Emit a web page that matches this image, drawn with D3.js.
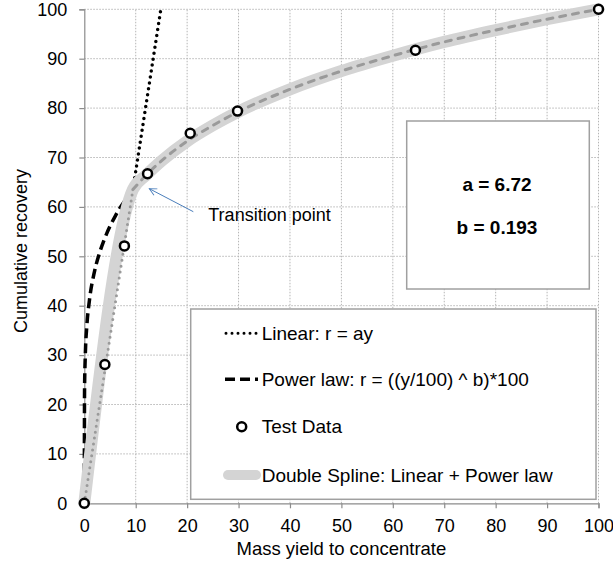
<!DOCTYPE html>
<html>
<head>
    <meta charset="utf-8">
    <title>Double spline recovery</title>
    <script src="https://cdn.jsdelivr.net/npm/d3@7"></script>
    <style>
        body { margin: 0; background: #fff; }
        text { font-family: "Liberation Sans", Arial, sans-serif; fill: #000; }
    </style>
</head>
<body>
<script>
    // test data (mass yield, recovery)
    var testX = [0, 4.0, 7.8, 12.3, 20.6, 29.8, 64.4, 100];
    var testY = [0, 28.1, 52.1, 66.7, 74.9, 79.4, 91.7, 100];

    // fitted model parameters
    var a = 6.72, b = 0.193;

    // linear model r = a*y
    var linLowX = [0, 9.45];          // spline part (grey dots)
    var linLowY = [0, 63.5];
    var linHighX = [9.45, 14.88];     // outside spline (black dots)
    var linHighY = [63.5, 100];

    // power law r = ((y/100)^b)*100
    var powLowX = [0, 0.05, 0.2, 0.5, 1, 2, 3, 4, 5, 6, 7, 8, 9.45];
    var powLowY = [0, 23.1, 30.1, 36.0, 41.1, 47.0, 50.8, 53.7, 56.1, 58.1, 59.9, 61.4, 63.5];
    var powHighX = [9.45, 12, 15, 20, 25, 30, 40, 50, 60, 70, 80, 90, 100];
    var powHighY = [63.5, 66.4, 69.3, 73.3, 76.5, 79.3, 83.8, 87.5, 90.6, 93.4, 95.8, 98.0, 100];

    var xTicks = [0, 10, 20, 30, 40, 50, 60, 70, 80, 90, 100];
    var yTicks = [0, 10, 20, 30, 40, 50, 60, 70, 80, 90, 100];

    var legendLabels = ["Linear: r = ay", "Power law: r = ((y/100) ^ b)*100",
                        "Test Data", "Double Spline: Linear + Power law"];

    var width = 613, height = 568;

    var x = d3.scaleLinear().domain([0, 100]).range([84.3, 598.5]);
    var y = d3.scaleLinear().domain([0, 100]).range([503.3, 9.3]);

    var svg = d3.select("body").append("svg")
        .attr("width", width)
        .attr("height", height);

    function zip(xs, ys) {
        return xs.map(function(d, i) { return [d, ys[i]]; });
    }

    // grid
    var grid = svg.append("g");
    grid.selectAll(".gx").data(xTicks.slice(1)).enter().append("line")
        .attr("x1", function(d) { return x(d); })
        .attr("x2", function(d) { return x(d); })
        .attr("y1", y(0)).attr("y2", y(100))
        .attr("stroke", "#b5b5b5").attr("stroke-dasharray", "1.5,1.5");
    grid.selectAll(".gy").data(yTicks.slice(1)).enter().append("line")
        .attr("y1", function(d) { return y(d); })
        .attr("y2", function(d) { return y(d); })
        .attr("x1", x(0)).attr("x2", x(100))
        .attr("stroke", "#b5b5b5").attr("stroke-dasharray", "1.5,1.5");

    // axes
    var xAxis = svg.append("g")
        .attr("transform", "translate(0," + y(0) + ")")
        .call(d3.axisBottom(x).tickValues(xTicks).tickSize(5).tickPadding(11));
    var yAxis = svg.append("g")
        .attr("transform", "translate(" + x(0) + ",0)")
        .call(d3.axisLeft(y).tickValues(yTicks).tickSize(5).tickPadding(12));
    [xAxis, yAxis].forEach(function(g) {
        g.select(".domain").attr("stroke", "#8c8c8c").attr("stroke-width", 1.2);
        g.selectAll(".tick line").attr("stroke", "#8c8c8c").attr("stroke-width", 1.2);
        g.selectAll(".tick text")
            .attr("font-family", '"Liberation Sans", Arial, sans-serif')
            .attr("font-size", 18).attr("fill", "#000");
    });

    svg.append("text")
        .attr("x", (x(0) + x(100)) / 2).attr("y", 555)
        .attr("text-anchor", "middle").attr("font-size", 18.5)
        .text("Mass yield to concentrate");
    svg.append("text")
        .attr("transform", "translate(26.5," + 251 + ") rotate(-90)")
        .attr("text-anchor", "middle").attr("font-size", 18)
        .text("Cumulative recovery");

    var line = d3.line()
        .x(function(d) { return x(d[0]); })
        .y(function(d) { return y(d[1]); });
    var smooth = d3.line()
        .x(function(d) { return x(d[0]); })
        .y(function(d) { return y(d[1]); })
        .curve(d3.curveMonotoneX);

    // black model lines outside the spline
    svg.append("path").datum(zip(linHighX, linHighY))
        .attr("d", line).attr("fill", "none")
        .attr("stroke", "#000").attr("stroke-width", 3.5)
        .attr("stroke-linecap", "round").attr("stroke-dasharray", "0,6");
    svg.append("path").datum(zip(powLowX, powLowY))
        .attr("d", smooth).attr("fill", "none")
        .attr("stroke", "#000").attr("stroke-width", 3.5)
        .attr("stroke-dasharray", "10,5");

    // double spline band
    var splinePts = zip(linLowX, linLowY).concat(zip(powHighX, powHighY).slice(1));
    svg.append("path").datum(splinePts)
        .attr("d", smooth).attr("fill", "none")
        .attr("stroke", "#d4d4d4").attr("stroke-width", 12)
        .attr("stroke-linejoin", "round").attr("stroke-linecap", "round");

    // grey model lines inside the spline
    svg.append("path").datum(zip(linLowX, linLowY))
        .attr("d", line).attr("fill", "none")
        .attr("stroke", "#9a9a9a").attr("stroke-width", 3)
        .attr("stroke-linecap", "round").attr("stroke-dasharray", "0,6");
    svg.append("path").datum(zip(powHighX, powHighY))
        .attr("d", smooth).attr("fill", "none")
        .attr("stroke", "#9a9a9a").attr("stroke-width", 3)
        .attr("stroke-linecap", "round").attr("stroke-dasharray", "6,7");

    // test data markers
    svg.selectAll("circle.pt").data(zip(testX, testY)).enter().append("circle")
        .attr("class", "pt")
        .attr("cx", function(d) { return x(d[0]); })
        .attr("cy", function(d) { return y(d[1]); })
        .attr("r", 4.5)
        .attr("fill", "#fff").attr("stroke", "#000").attr("stroke-width", 2.5);

    // transition annotation
    svg.append("defs").append("marker")
        .attr("id", "arr").attr("viewBox", "0 0 10 10")
        .attr("refX", 9).attr("refY", 5)
        .attr("markerWidth", 9).attr("markerHeight", 9)
        .attr("orient", "auto")
        .append("path").attr("d", "M1,1 L9,5 L1,9")
        .attr("fill", "none").attr("stroke", "#4a7ebb").attr("stroke-width", 1);
    svg.append("line")
        .attr("x1", 193.3).attr("y1", 211.7).attr("x2", 149.3).attr("y2", 188.7)
        .attr("stroke", "#4a7ebb").attr("stroke-width", 1)
        .attr("marker-end", "url(#arr)");
    svg.append("text").attr("x", 208.3).attr("y", 220.7)
        .attr("font-size", 18).text("Transition point");

    // parameter box
    svg.append("rect").attr("x", 406.7).attr("y", 121).attr("width", 182.6).attr("height", 168)
        .attr("fill", "#fff").attr("stroke", "#a0a0a0").attr("stroke-width", 1.5);
    svg.append("text").attr("x", 497).attr("y", 190.7).attr("text-anchor", "middle")
        .attr("font-size", 19).attr("font-weight", "bold").text("a = " + a);
    svg.append("text").attr("x", 497).attr("y", 234).attr("text-anchor", "middle")
        .attr("font-size", 19).attr("font-weight", "bold").text("b = " + b);

    // legend
    var lg = svg.append("g");
    lg.append("rect").attr("x", 190.7).attr("y", 309).attr("width", 405.3).attr("height", 190.3)
        .attr("fill", "#fff").attr("stroke", "#a0a0a0").attr("stroke-width", 1.5);
    var rowY = [333.3, 379.3, 426.7, 475];
    lg.selectAll("text.lab").data(legendLabels).enter().append("text")
        .attr("class", "lab")
        .attr("x", 261.7)
        .attr("y", function(d, i) { return rowY[i]; })
        .attr("dy", "0.35em")
        .attr("font-size", 19)
        .text(function(d) { return d; });
    lg.append("line").attr("x1", 226).attr("x2", 258).attr("y1", rowY[0]).attr("y2", rowY[0])
        .attr("stroke", "#000").attr("stroke-width", 3)
        .attr("stroke-linecap", "round").attr("stroke-dasharray", "0,6");
    lg.append("line").attr("x1", 225).attr("x2", 258).attr("y1", rowY[1]).attr("y2", rowY[1])
        .attr("stroke", "#000").attr("stroke-width", 3.5).attr("stroke-dasharray", "10,5");
    lg.append("circle").attr("cx", 241.7).attr("cy", rowY[2]).attr("r", 4.5)
        .attr("fill", "#fff").attr("stroke", "#000").attr("stroke-width", 2.5);
    lg.append("line").attr("x1", 228).attr("x2", 256).attr("y1", rowY[3]).attr("y2", rowY[3])
        .attr("stroke", "#d4d4d4").attr("stroke-width", 10).attr("stroke-linecap", "round");
</script>
</body>
</html>
